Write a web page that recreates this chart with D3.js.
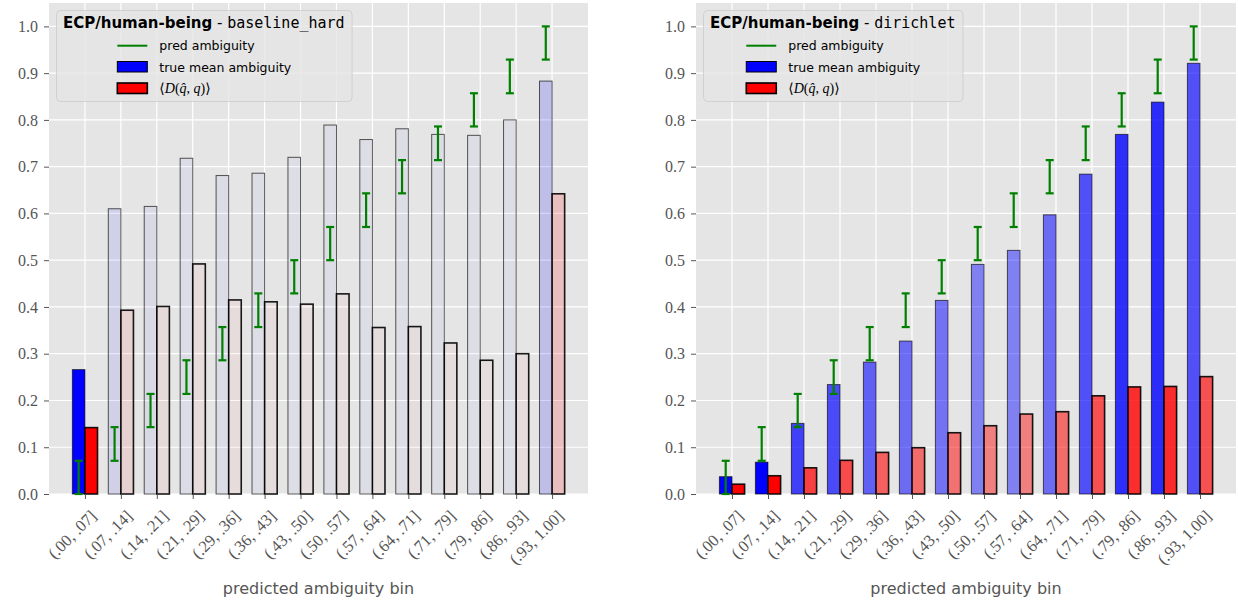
<!DOCTYPE html>
<html>
<head>
<meta charset="utf-8">
<script src="https://cdn.jsdelivr.net/npm/d3@7"></script>
<style>
  body { margin: 0; background: #fff; }
  svg { display: block; }
</style>
</head>
<body>
<div id="chart"></div>
<script>
// bins on the x axis
var bins = ["(.00, .07]", "(.07, .14]", "(.14, .21]", "(.21, .29]", "(.29, .36]", "(.36, .43]", "(.43, .50]",
  "(.50, .57]", "(.57, .64]", "(.64, .71]", "(.71, .79]", "(.79, .86]", "(.86, .93]", "(.93, 1.00]"];

// pred ambiguity (green error bars): low / high of each bin
var predLow  = [0.000, 0.071, 0.143, 0.214, 0.286, 0.357, 0.429, 0.500, 0.571, 0.643, 0.714, 0.786, 0.857, 0.929];
var predHigh = [0.071, 0.143, 0.214, 0.286, 0.357, 0.429, 0.500, 0.571, 0.643, 0.714, 0.786, 0.857, 0.929, 1.000];

// baseline_hard
var hardTrue  = [0.266, 0.610, 0.615, 0.718, 0.681, 0.686, 0.720, 0.789, 0.758, 0.781, 0.769, 0.767, 0.800, 0.883];
var hardD     = [0.142, 0.393, 0.401, 0.492, 0.415, 0.411, 0.406, 0.428, 0.356, 0.358, 0.323, 0.286, 0.300, 0.642];
var hardAlpha = [1.0, 0.09, 0.05, 0.04, 0.04, 0.03, 0.03, 0.03, 0.03, 0.03, 0.03, 0.03, 0.03, 0.17];

// dirichlet
var dirTrue  = [0.037, 0.068, 0.151, 0.234, 0.282, 0.327, 0.414, 0.491, 0.521, 0.597, 0.684, 0.769, 0.838, 0.921];
var dirD     = [0.021, 0.039, 0.056, 0.072, 0.089, 0.099, 0.131, 0.146, 0.171, 0.176, 0.210, 0.229, 0.230, 0.251];
var dirAlpha = [1.0, 1.0, 0.72, 0.68, 0.58, 0.53, 0.50, 0.44, 0.44, 0.53, 0.65, 0.80, 0.81, 0.65];

var yTicks = [0.0, 0.1, 0.2, 0.3, 0.4, 0.5, 0.6, 0.7, 0.8, 0.9, 1.0];

var svg = d3.select("#chart").append("svg")
  .attr("width", 1238)
  .attr("height", 601);

var serif = "'Liberation Serif', 'DejaVu Serif', serif";
var sans = "'DejaVu Sans', sans-serif";
var mono = "'DejaVu Sans Mono', 'Liberation Mono', monospace";

function drawPanel(left, width, method, trueVals, dVals, alphas) {
  var top = 3, height = 491, barW = 0.35;

  var g = svg.append("g").attr("transform", "translate(" + left + "," + top + ")");

  var x = d3.scaleLinear().domain([-1, 14]).range([0, width]);
  var y = d3.scaleLinear().domain([0, 1.05]).range([height, 0]);

  // ggplot-like background and grid
  g.append("rect").attr("width", width).attr("height", height).attr("fill", "#e5e5e5");
  g.selectAll(".hgrid").data(yTicks).enter().append("line")
    .attr("x1", 0).attr("x2", width)
    .attr("y1", d => y(d)).attr("y2", d => y(d))
    .attr("stroke", "#fff").attr("stroke-width", 1.2);
  g.selectAll(".vgrid").data(bins).enter().append("line")
    .attr("x1", (d, i) => x(i)).attr("x2", (d, i) => x(i))
    .attr("y1", 0).attr("y2", height)
    .attr("stroke", "#fff").attr("stroke-width", 1.2);

  // true mean ambiguity bars
  g.selectAll(".tbar").data(trueVals).enter().append("rect")
    .attr("x", (d, i) => x(i - barW))
    .attr("y", d => y(d))
    .attr("width", x(barW) - x(0))
    .attr("height", d => y(0) - y(d))
    .attr("fill", "blue")
    .attr("fill-opacity", (d, i) => alphas[i])
    .attr("stroke", "#000").attr("stroke-opacity", 0.65).attr("stroke-width", 1);

  // <D(q^, q)> bars
  g.selectAll(".dbar").data(dVals).enter().append("rect")
    .attr("x", (d, i) => x(i))
    .attr("y", d => y(d))
    .attr("width", x(barW) - x(0))
    .attr("height", d => y(0) - y(d))
    .attr("fill", "red")
    .attr("fill-opacity", (d, i) => alphas[i])
    .attr("stroke", "#000").attr("stroke-opacity", 0.9).attr("stroke-width", 1.6);

  // pred ambiguity error bars
  var eb = g.selectAll(".eb").data(bins).enter().append("g")
    .attr("stroke", "green").attr("stroke-width", 2.2);
  eb.append("line")
    .attr("x1", (d, i) => x(i - barW / 2)).attr("x2", (d, i) => x(i - barW / 2))
    .attr("y1", (d, i) => y(predLow[i])).attr("y2", (d, i) => y(predHigh[i]));
  eb.append("line")
    .attr("x1", (d, i) => x(i - barW / 2) - 4).attr("x2", (d, i) => x(i - barW / 2) + 4)
    .attr("y1", (d, i) => y(predLow[i])).attr("y2", (d, i) => y(predLow[i]));
  eb.append("line")
    .attr("x1", (d, i) => x(i - barW / 2) - 4).attr("x2", (d, i) => x(i - barW / 2) + 4)
    .attr("y1", (d, i) => y(predHigh[i])).attr("y2", (d, i) => y(predHigh[i]));

  // y axis
  var ya = g.append("g")
    .call(d3.axisLeft(y).tickValues(yTicks).tickFormat(d3.format(".1f")).tickSize(5).tickPadding(6));
  ya.select(".domain").remove();
  ya.selectAll("line").attr("stroke", "#555");
  ya.selectAll("text").attr("fill", "#555").style("font-family", serif).style("font-size", "16px");

  // x axis
  var xa = g.append("g")
    .attr("transform", "translate(0," + height + ")")
    .call(d3.axisBottom(x).tickValues(d3.range(bins.length)).tickFormat(i => bins[i]).tickSize(5));
  xa.select(".domain").remove();
  xa.selectAll("line").attr("stroke", "#555");
  xa.selectAll("text")
    .attr("fill", "#555")
    .style("font-family", serif).style("font-size", "16.5px")
    .attr("x", 0).attr("y", 0).attr("dy", 0)
    .attr("text-anchor", "end")
    .attr("transform", "translate(12,23) rotate(-45)");

  g.append("text")
    .attr("x", width / 2).attr("y", 594 - top)
    .attr("text-anchor", "middle")
    .attr("fill", "#555")
    .style("font-family", sans).style("font-size", "16px")
    .text("predicted ambiguity bin");

  // legend
  var lg = g.append("g");
  var box = lg.append("rect")
    .attr("x", 7.5).attr("y", 7.5).attr("rx", 4)
    .attr("height", 91)
    .attr("fill", "#e5e5e5").attr("fill-opacity", 0.8)
    .attr("stroke", "#ccc").attr("stroke-opacity", 0.8);

  var title = lg.append("text")
    .attr("x", 14).attr("y", 25.3)
    .attr("fill", "#000")
    .style("font-size", "15px");
  title.append("tspan").style("font-family", sans).style("font-weight", "bold").text("ECP/human-being");
  title.append("tspan").style("font-family", sans).text(" - ");
  title.append("tspan").style("font-family", mono).text(method);
  var titleW = title.node().getComputedTextLength();
  box.attr("width", titleW + 14);

  var items = lg.append("g");
  items.append("line")
    .attr("x1", 0).attr("x2", 30).attr("y1", 42.7).attr("y2", 42.7)
    .attr("stroke", "green").attr("stroke-width", 2);
  items.append("rect")
    .attr("x", 0).attr("y", 58.5).attr("width", 30).attr("height", 10.5)
    .attr("fill", "blue").attr("stroke", "#000").attr("stroke-width", 1);
  items.append("rect")
    .attr("x", 0).attr("y", 80).attr("width", 30).attr("height", 10.5)
    .attr("fill", "red").attr("stroke", "#000").attr("stroke-width", 1.6);

  var t1 = items.append("text").attr("x", 42).attr("y", 47)
    .style("font-family", sans).style("font-size", "12.5px").text("pred ambiguity");
  var t2 = items.append("text").attr("x", 42).attr("y", 69)
    .style("font-family", sans).style("font-size", "12.5px").text("true mean ambiguity");
  var t3 = items.append("text").attr("x", 42).attr("y", 90)
    .style("font-family", serif).style("font-size", "14px");
  t3.append("tspan").text("\u27E8");
  t3.append("tspan").style("font-style", "italic").text("D");
  t3.append("tspan").text("(");
  t3.append("tspan").style("font-style", "italic").text("q\u0302");
  t3.append("tspan").text(", ");
  t3.append("tspan").style("font-style", "italic").text("q");
  t3.append("tspan").text(")\u27E9");

  var itemsW = 42 + d3.max([t1, t2, t3], t => t.node().getComputedTextLength());
  items.attr("transform", "translate(" + (7.5 + (titleW + 14 - itemsW) / 2) + ",0)");
}

drawPanel(49, 539, "baseline_hard", hardTrue, hardD, hardAlpha);
drawPanel(696, 540, "dirichlet", dirTrue, dirD, dirAlpha);
</script>
</body>
</html>
